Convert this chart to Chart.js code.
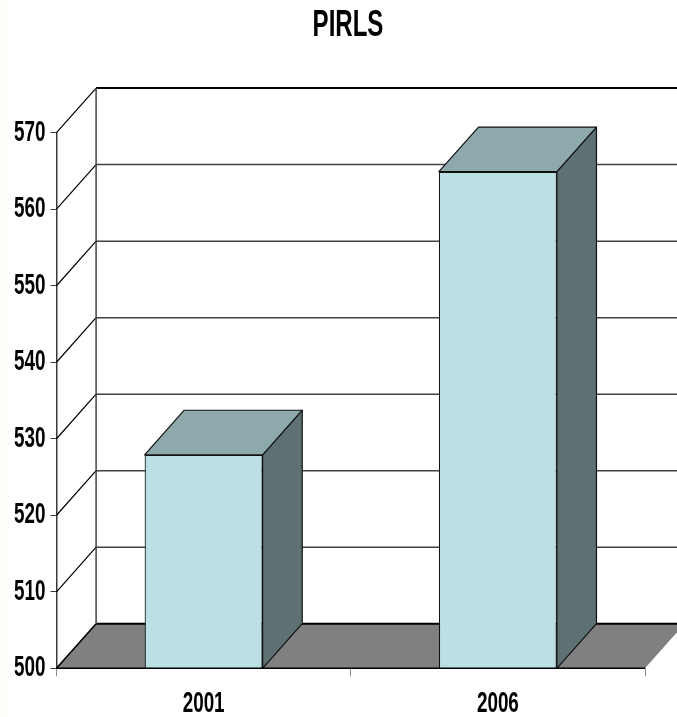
<!DOCTYPE html>
<html>
<head>
<meta charset="utf-8">
<style>
html,body{margin:0;padding:0;width:677px;height:717px;overflow:hidden;background:linear-gradient(to right,#fdfcf6,#ffffff 12px);}
#wrap{position:relative;width:677px;height:717px;}
canvas{display:block;}
</style>
<script src="https://cdn.jsdelivr.net/npm/chart.js@4"></script>
</head>
<body>
<div id="wrap"><canvas id="c" width="677" height="717"></canvas></div>
<script>
const titleText = "PIRLS";
const categories = ["2001", "2006"];
const scores = [527.9, 564.9];
const axisMin = 500;
const axisMax = 570;
const axisStep = 10;

const depthX = 39.6;
const depthY = -44.6;
const squeeze = 0.65;
const fontFamily = '"Liberation Sans",Arial,sans-serif';

const canvas = document.getElementById("c");
const context = canvas.getContext("2d");
const plainFillText = context.fillText.bind(context);
context.fillText = function (text, x, y, maxWidth) {
  context.save();
  context.translate(x, y);
  context.scale(squeeze, 1);
  if (maxWidth === undefined) plainFillText(text, 0, 0);
  else plainFillText(text, 0, 0, maxWidth / squeeze);
  context.restore();
};

function poly(ctx, pts, fill, stroke, lw) {
  ctx.beginPath();
  pts.forEach((p, i) => i ? ctx.lineTo(p[0], p[1]) : ctx.moveTo(p[0], p[1]));
  ctx.closePath();
  if (fill) { ctx.fillStyle = fill; ctx.fill(); }
  if (stroke) { ctx.strokeStyle = stroke; ctx.lineWidth = lw; ctx.lineJoin = "round"; ctx.stroke(); }
}
function line(ctx, x1, y1, x2, y2, color, lw) {
  ctx.beginPath(); ctx.moveTo(x1, y1); ctx.lineTo(x2, y2);
  ctx.strokeStyle = color; ctx.lineWidth = lw; ctx.stroke();
}

const box3d = {
  id: "box3d",
  afterLayout(chart) {
    if (chart.titleBlock) { chart.titleBlock.left = 19; chart.titleBlock.right = 677; }
  },
  beforeDatasetsDraw(chart) {
    const { ctx, chartArea: a, scales } = chart;
    const y = scales.y;
    ctx.save();
    const bottom = y.getPixelForValue(axisMin);
    poly(ctx, [[a.left, bottom], [a.right, bottom], [a.right + depthX, bottom + depthY], [a.left + depthX, bottom + depthY]], "#808080");
    for (let v = axisMin; v <= axisMax; v += axisStep) {
      const py = y.getPixelForValue(v);
      line(ctx, a.left, py, a.left + depthX, py + depthY, "#000000", v === axisMin ? 1.6 : 1.2);
      const edge = v === axisMin || v === axisMax;
      line(ctx, a.left + depthX, py + depthY, a.right + depthX, py + depthY, edge ? "#000000" : "#404040", edge ? 2 : 1.5);
    }
    line(ctx, a.left + depthX, y.getPixelForValue(axisMax) + depthY, a.left + depthX, bottom + depthY, "#404040", 1.5);
    ctx.restore();
  },
  afterDatasetsDraw(chart) {
    const { ctx, chartArea: a, scales } = chart;
    const bottom = scales.y.getPixelForValue(axisMin);
    ctx.save();
    chart.getDatasetMeta(0).data.forEach(bar => {
      const p = bar.getProps(["x", "y", "width"], true);
      const l = p.x - p.width / 2, r = p.x + p.width / 2;
      poly(ctx, [[r, bottom], [r + depthX, bottom + depthY], [r + depthX, p.y + depthY], [r, p.y]], "#5d7072", "#111111", 1.2);
      poly(ctx, [[l, p.y], [r, p.y], [r + depthX, p.y + depthY], [l + depthX, p.y + depthY]], "#8ea9ab", "#111111", 1.2);
    });
    line(ctx, a.left, bottom, a.right, bottom, "#000000", 1.6);
    ctx.restore();
  }
};

new Chart(context, {
  type: "bar",
  data: {
    labels: categories,
    datasets: [{
      data: scores,
      backgroundColor: "#bbe0e3",
      borderColor: "#111111",
      borderWidth: 1.2,
      barPercentage: 0.401,
      categoryPercentage: 1
    }]
  },
  plugins: [box3d],
  options: {
    responsive: false,
    animation: false,
    devicePixelRatio: 1,
    layout: { padding: { left: 0, right: 32, top: 0, bottom: 0 } },
    plugins: {
      legend: { display: false },
      tooltip: { enabled: false },
      title: {
        display: true,
        text: titleText,
        color: "#000000",
        font: { family: fontFamily, size: 37, weight: "bold", lineHeight: 1.2 },
        padding: { top: 4, bottom: 84.3 }
      }
    },
    scales: {
      x: {
        afterFit(s) { s.height = 48.7; },
        grid: { drawOnChartArea: false, drawTicks: true, tickLength: 8, color: "#8a8a8a", offset: true },
        border: { display: false },
        ticks: { color: "#000000", padding: 10, maxRotation: 0, font: { family: fontFamily, size: 29, weight: "bold" } }
      },
      y: {
        min: axisMin,
        max: axisMax,
        afterFit(s) { s.width = 56.5; },
        grid: { drawOnChartArea: false, drawTicks: true, tickLength: 6, color: "#3a3a3a" },
        border: { display: true, color: "#3a3a3a", width: 1.5 },
        ticks: { stepSize: axisStep, color: "#000000", padding: 5, font: { family: fontFamily, size: 29, weight: "bold" } }
      }
    }
  }
});
</script>
</body>
</html>
